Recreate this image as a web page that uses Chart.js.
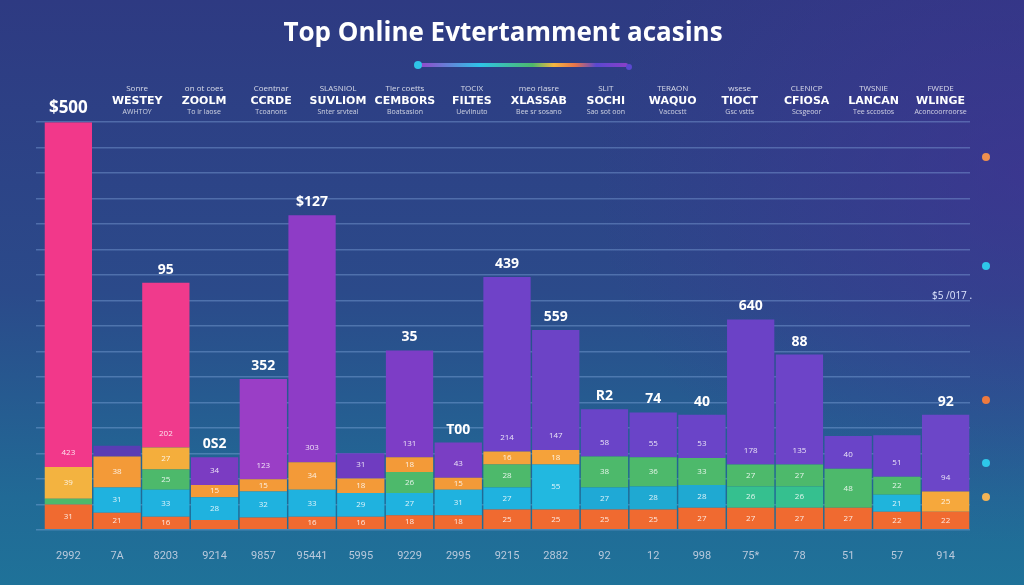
<!DOCTYPE html>
<html lang="en">
	<head>
		<meta charset="UTF-8" />
		<title>Top Online Casinos</title>
		<script src="https://cdn.jsdelivr.net/npm/chart.js"></script>
		<style>
			html,
			body {
				margin: 0;
				padding: 0;
				width: 1024px;
				height: 585px;
				overflow: hidden;
			}
			body {
				background:
					radial-gradient(ellipse 60% 90% at 100% 30%, rgba(70, 45, 150, 0.55), rgba(70, 45, 150, 0) 70%),
					linear-gradient(180deg, #2e3a82 0%, #2b4a8a 50%, #216a96 85%, #1f7299 100%);
			}
		</style>
	</head>
	<body>
		<canvas id="myChart" width="1024" height="585"></canvas>

		<script>
			// bottom category labels, one per column
			var categories = ["2992", "7A", "8203", "9214", "9857", "95441", "5995", "9229", "2995", "9215", "2882", "92", "12", "998", "75*", "78", "51", "57", "914"];

			// stacked layers, bottom to top
			var baseValues = [31, 21, 16, 12, 15, 16, 16, 18, 18, 25, 25, 25, 25, 27, 27, 27, 27, 22, 22];
			var lowerValues = [0, 31, 33, 28, 32, 33, 29, 27, 31, 27, 55, 27, 28, 28, 26, 26, 0, 21, 0];
			var middleValues = [7, 0, 25, 0, 0, 0, 0, 26, 0, 28, 0, 38, 36, 33, 27, 27, 48, 22, 0];
			var upperValues = [39, 38, 27, 15, 15, 34, 18, 18, 15, 16, 18, 0, 0, 0, 0, 0, 0, 0, 25];
			var topValues = [423, 13, 202, 34, 123, 303, 31, 131, 43, 214, 147, 58, 55, 53, 178, 135, 40, 51, 94];

			// labels shown above each column
			var topLabels = ["$500", "", "95", "0S2", "352", "$127", "", "35", "T00", "439", "559", "R2", "74", "40", "640", "88", "", "", "92"];

			// header row under the title
			var headerLabels = [
				["Sonre", "WESTEY", "AWHTOY"],
				["on ot coes", "ZOOLM", "To ir laose"],
				["Coentnar", "CCRDE", "Tcoanons"],
				["SLASNIOL", "SUVLIOM", "Snter srvteal"],
				["Tler coetts", "CEMBORS", "Boatsasion"],
				["TOCIX", "FILTES", "Uevlinuto"],
				["meo rlasre", "XLASSAB", "Bee sr sosano"],
				["SLIT", "SOCHI", "Sao sot oon"],
				["TERAON", "WAQUO", "Vacocstt"],
				["wsese", "TIOCT", "Gsc vstts"],
				["CLENICP", "CFIOSA", "Scsgeoor"],
				["TWSNIE", "LANCAN", "Tee sccostos"],
				["FWEDE", "WLINGE", "Aconcoorroorse"],
			];

			var baseColors = categories.map(function () {
				return "#f06a30";
			});
			var lowerColors = ["#1fb2df", "#1fb2df", "#1fb2df", "#1fb2df", "#1fb2df", "#1fb2df", "#1fb2df", "#1fb2df", "#1fb2df", "#1fb2df", "#22b8e0", "#1fa9d6", "#1fa9d2", "#1fa9d2", "#35c08f", "#35c08f", "#1fb2df", "#1fb4dc", "#1fb2df"];
			var middleColors = categories.map(function () {
				return "#4db96b";
			});
			var upperColors = ["#f3b340", "#f39a38", "#f4ae3c", "#f39a38", "#f39a38", "#f39a38", "#f39a38", "#f39a38", "#f39a38", "#f5a23a", "#f5a23a", "#f39a38", "#f39a38", "#f39a38", "#f39a38", "#f39a38", "#f39a38", "#f39a38", "#f6a83c"];
			var topColors = ["#f2388a", "#5a3db4", "#f03a8c", "#7b3cc2", "#9a3ec6", "#8e3cc6", "#6f3cc0", "#7d3dc6", "#7a3ec4", "#6f42c8", "#6c43c6", "#6a44c8", "#6a44c8", "#6a44c8", "#6b42c6", "#6d44c8", "#6a44c8", "#6a44c8", "#6c46c8"];

			var decorations = {
				id: "decorations",
				beforeDatasetsDraw: function (chart) {
					var ctx = chart.ctx;
					var area = chart.chartArea;
					ctx.save();

					// line under the title
					var cx = chart.width / 2 + 10;
					var grad = ctx.createLinearGradient(cx - 106, 0, cx + 106, 0);
					grad.addColorStop(0, "#9b3fc8");
					grad.addColorStop(0.3, "#2ec4e8");
					grad.addColorStop(0.55, "#4db96b");
					grad.addColorStop(0.65, "#f5b640");
					grad.addColorStop(0.75, "#e8744a");
					grad.addColorStop(0.85, "#5a48d0");
					grad.addColorStop(1, "#8a3fc8");
					ctx.strokeStyle = grad;
					ctx.lineWidth = 4;
					ctx.lineCap = "round";
					ctx.beginPath();
					ctx.moveTo(cx - 100, 65);
					ctx.lineTo(cx + 104, 65);
					ctx.stroke();
					ctx.fillStyle = "#2ec4e8";
					ctx.beginPath();
					ctx.arc(cx - 104, 65, 4, 0, Math.PI * 2);
					ctx.fill();
					ctx.fillStyle = "#5a48d0";
					ctx.beginPath();
					ctx.arc(cx + 107, 67, 3, 0, Math.PI * 2);
					ctx.fill();

					// header row
					ctx.textAlign = "center";
					ctx.textBaseline = "middle";
					ctx.fillStyle = "#ffffff";
					headerLabels.forEach(function (lines, i) {
						var x = area.left + area.width * (0.1006 + i * 0.0723);
						ctx.font = "8px 'Open Sans'";
						ctx.globalAlpha = 0.8;
						ctx.fillText(lines[0], x, 89);
						ctx.font = "bold 11px 'DejaVu Sans'";
						ctx.globalAlpha = 1;
						ctx.fillText(lines[1], x, 101);
						ctx.font = "7px 'Open Sans'";
						ctx.globalAlpha = 0.75;
						ctx.fillText(lines[2], x, 112);
					});
					ctx.globalAlpha = 1;

					// dots on the right
					var dots = [
						[157, "#ee8f4e"],
						[266, "#2ec8ea"],
						[400, "#ee7a3e"],
						[463, "#2ec8ea"],
						[497, "#f3b456"],
					];
					dots.forEach(function (d) {
						ctx.fillStyle = d[1];
						ctx.beginPath();
						ctx.arc(986, d[0], 4, 0, Math.PI * 2);
						ctx.fill();
					});

					ctx.font = "10px 'Open Sans'";
					ctx.fillStyle = "#dfe6ff";
					ctx.fillText("$5 /017 .", 952, 296);
					ctx.restore();
				},
				afterDatasetsDraw: function (chart) {
					var ctx = chart.ctx;
					ctx.save();
					ctx.textAlign = "center";
					ctx.textBaseline = "middle";

					// small values inside segments
					chart.data.datasets.forEach(function (ds, di) {
						var meta = chart.getDatasetMeta(di);
						meta.data.forEach(function (bar, i) {
							var h = bar.base - bar.y;
							if (h < 12) return;
							var y = di === 4 ? bar.base - 14 : bar.y + h / 2;
							ctx.font = "8px 'Open Sans'";
							ctx.fillStyle = "rgba(255,255,255,0.85)";
							ctx.fillText(ds.data[i], bar.x, y);
						});
					});

					// labels above each column
					var topMeta = chart.getDatasetMeta(4);
					topMeta.data.forEach(function (bar, i) {
						if (!topLabels[i]) return;
						ctx.font = "bold " + (i === 0 ? 17 : 14) + "px 'Open Sans'";
						ctx.fillStyle = "#ffffff";
						ctx.fillText(topLabels[i], bar.x, bar.y - (i === 0 ? 14 : 13));
					});
					ctx.restore();
				},
			};

			function layer(label, data, colors) {
				return {
					label: label,
					data: data,
					backgroundColor: colors,
					borderWidth: 0,
					barPercentage: 1,
					categoryPercentage: 0.97,
				};
			}

			var ctx = document.getElementById("myChart").getContext("2d");
			var myChart = new Chart(ctx, {
				type: "bar",
				plugins: [decorations],
				data: {
					labels: categories,
					datasets: [
						layer("Base", baseValues, baseColors),
						layer("Lower", lowerValues, lowerColors),
						layer("Middle", middleValues, middleColors),
						layer("Upper", upperValues, upperColors),
						layer("Top", topValues, topColors),
					],
				},
				options: {
					responsive: false,
					animation: false,
					layout: {
						padding: { left: 36, right: 54, bottom: 10 },
					},
					scales: {
						x: {
							stacked: true,
							grid: { display: false },
							border: { display: false },
							ticks: {
								color: "#b9c9dc",
								font: { size: 11, family: "Roboto" },
								padding: 12,
							},
						},
						y: {
							stacked: true,
							min: 0,
							max: 500,
							border: { display: false },
							grid: {
								color: "rgba(140, 175, 230, 0.38)",
								lineWidth: 1.5,
							},
							ticks: { display: false, stepSize: 31.25 },
						},
					},
					plugins: {
						legend: { display: false },
						tooltip: { enabled: false },
						title: {
							display: true,
							text: "Top Online Evtertamment acasins",
							color: "#ffffff",
							font: { size: 26, weight: "bold", family: "Open Sans" },
							padding: { top: 18, bottom: 73 },
						},
					},
				},
			});
		</script>
	</body>
</html>
